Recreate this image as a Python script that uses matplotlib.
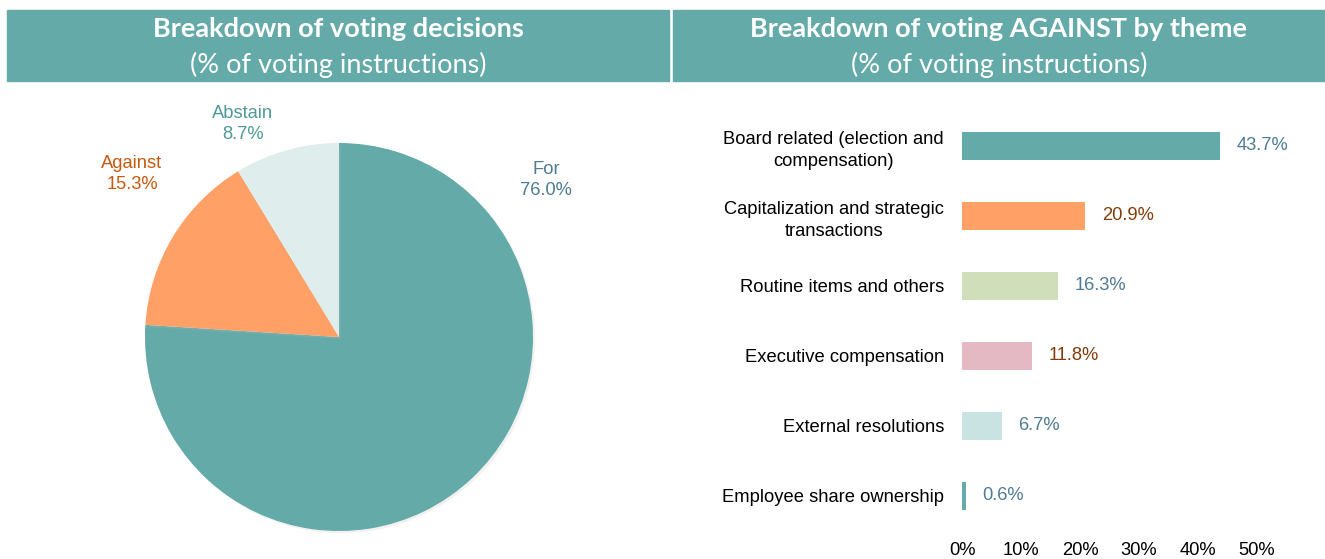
import numpy as np
import matplotlib.pyplot as plt
import matplotlib.patheffects as pe

plt.rcParams["font.family"] = ["Liberation Sans", "DejaVu Sans"]

# Data
vote_labels = ["For", "Against", "Abstain"]
vote_shares = [76.0, 15.3, 8.7]
vote_colors = ["#63aaa9", "#ffa066", "#dfeded"]
vote_text_colors = ["#4f7b95", "#c55a11", "#4e9a96"]

themes = ["Board related (election and\ncompensation)",
          "Capitalization and strategic\ntransactions",
          "Routine items and others",
          "Executive compensation",
          "External resolutions",
          "Employee share ownership"]
theme_values = [43.7, 20.9, 16.3, 11.8, 6.7, 0.6]
theme_colors = ["#63aaa9", "#ffa066", "#d0deba", "#e4b9c3", "#c9e3e3", "#63aaa9"]
theme_text_colors = ["#4f7b95", "#843c0c", "#4f7b95", "#843c0c", "#4f7b95", "#4f7b95"]
x_ticks = [0, 10, 20, 30, 40, 50]

W, H = 1325, 559
fig = plt.figure(figsize=(W / 100, H / 100), dpi=100)

head_col = "#63aaa9"
fs = 13.2

def header(x0, x1, line1, line2):
    fig.patches.append(plt.Rectangle((x0 / W, 1 - 81 / H), (x1 - x0) / W, 71 / H,
                                     transform=fig.transFigure, color=head_col, zorder=0))
    cx = (x0 + x1) / 2 / W
    fig.text(cx, 1 - 29 / H, line1, ha="center", va="center", color="white",
             fontsize=19.5, fontweight="bold", family="Lato")
    fig.text(cx, 1 - 65 / H, line2, ha="center", va="center", color="white",
             fontsize=19.5, family="Lato")

header(7, 669, "Breakdown of voting decisions", "(% of voting instructions)")
header(673, 1325, "Breakdown of voting AGAINST by theme", "(% of voting instructions)")

# ---- pie ----
cx, cy, r = 339, 337, 194
box = 200
ax1 = fig.add_axes([(cx - box) / W, (H - cy - box) / H, 2 * box / W, 2 * box / H])
wedges, _ = ax1.pie(vote_shares, colors=vote_colors, startangle=90, counterclock=False,
                    radius=1)
for w in wedges:
    w.set_path_effects([pe.SimplePatchShadow(offset=(1.5, -1.5), shadow_rgbFace="#bbbbbb", alpha=0.2),
                        pe.Normal()])
lim = box / r
ax1.set_xlim(-lim, lim)
ax1.set_ylim(-lim, lim)
ax1.set_aspect("equal")
ax1.axis("off")

# label placement (data units of the pie, radius = 1)
label_pos = [(1.067, 0.81), (-1.067, 0.84), (-0.495, 1.1)]
for lab, val, col, (lx, ly) in zip(vote_labels, vote_shares, vote_text_colors, label_pos):
    ax1.text(lx, ly, f"{lab}\n{val:.1f}%", ha="center", va="center", color=col,
             fontsize=fs, linespacing=1.3)

# ---- bars ----
x0px, x50px = 962, 1257
top, bot = 111, 531
ax2 = fig.add_axes([x0px / W, (H - bot) / H, (x50px - x0px) / W, (bot - top) / H])
ypos = np.arange(len(themes))
bars = ax2.barh(ypos, theme_values, height=0.4, color=theme_colors)
ax2.set_ylim(len(themes) - 0.5, -0.5)
ax2.set_xlim(0, 50)
ax2.set_xticks(x_ticks)
ax2.set_xticklabels([f"{t}%" for t in x_ticks], fontsize=fs)
ax2.set_yticks(ypos)
ax2.set_yticklabels(themes, fontsize=fs, multialignment="center", linespacing=1.35)
ax2.tick_params(axis="both", length=0)
ax2.tick_params(axis="y", pad=13)
ax2.tick_params(axis="x", pad=8)
for s in ax2.spines.values():
    s.set_visible(False)
for b, val, col in zip(bars, theme_values, theme_text_colors):
    ax2.annotate(f"{val:.1f}%", (b.get_width(), b.get_y() + b.get_height() / 2),
                 xytext=(12, 0), textcoords="offset points", ha="left", va="center",
                 color=col, fontsize=fs)

fig.savefig("out.png", dpi=100, facecolor="white")
